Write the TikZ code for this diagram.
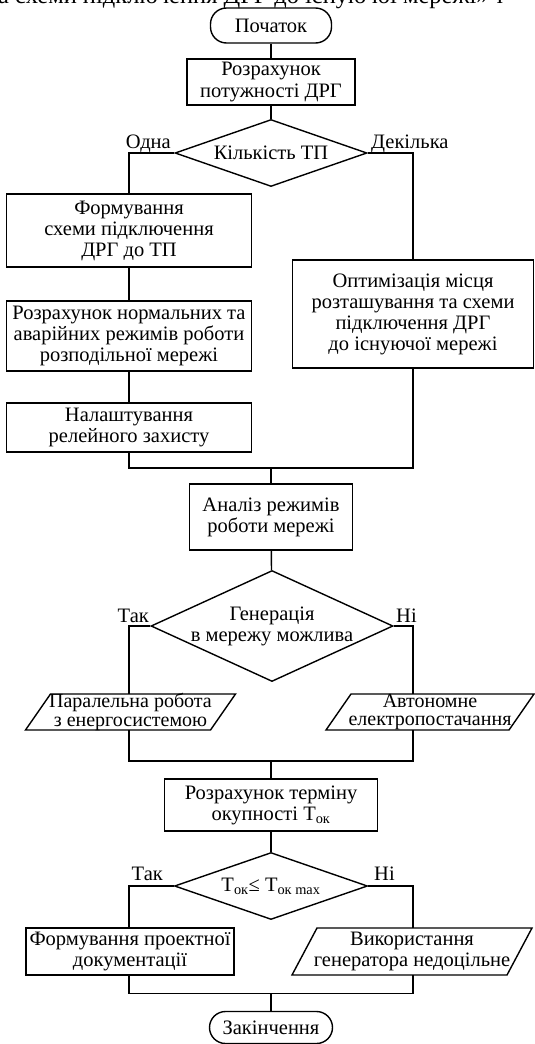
\documentclass[tikz,border=0pt]{standalone}
\usepackage{fontspec}
\setmainfont{Liberation Serif}
\usetikzlibrary{shapes.geometric,calc}
\newcommand{\fsmain}{\fontsize{20.5}{21}\selectfont}
\newcommand{\fsio}{\fontsize{20}{18.5}\selectfont}
\tikzset{
  conn/.style={line width=1.4pt},
  proc/.style={draw, line width=1.4pt, rectangle, align=center, inner sep=0pt, font=\fsmain},
  term/.style={draw, line width=1.4pt, rectangle, rounded corners=16pt, align=center, inner sep=0pt, font=\fsmain},
  dec/.style={draw, line width=1.4pt, diamond, align=center, inner sep=-8pt, font=\fsmain},
  io/.style={rectangle, align=center, inner sep=0pt},
  lbl/.style={inner sep=0pt, font=\fsmain},
}
% #1 name, #2 half width, #3 half height, #4 slant
\newcommand{\iobox}[4]{%
  \draw[line width=1.4pt, line join=miter] ($(#1.center)+(-#2+#4,-#3)$) -- ($(#1.center)+(#2,-#3)$) -- ($(#1.center)+(#2-#4,#3)$) -- ($(#1.center)+(-#2,#3)$) -- cycle;
  \coordinate (#1-top) at ($(#1.center)+(0,-#3)$);
  \coordinate (#1-bot) at ($(#1.center)+(0,#3)$);}
\begin{document}
\begin{tikzpicture}[x=1pt,y=-1pt]
\useasboundingbox (0,0) rectangle (535,1044);
\begin{scope}
\clip (0,0) rectangle (535,1044);
\node[font=\fontsize{24.5}{24.5}\selectfont, anchor=base west, inner sep=0pt] (cap) at (-2,3) {а схеми підключення ДРГ до існуючої мережі» т};
\end{scope}
\coordinate (L) at (129,0);
\coordinate (R) at (413,0);
% nodes
\node[term, minimum width=121pt, minimum height=35pt] (start) at (271,25.5) {Початок};
\node[proc, minimum width=168pt, minimum height=46pt] (calc) at (271,82) {Розрахунок\\потужності ДРГ};
\node[dec, minimum width=192pt, minimum height=67pt, aspect=2.87] (tp) at (271,153) {Кількість ТП};
\node[proc, minimum width=245pt, minimum height=73pt] (form) at (129,230.5) {Формування\\схеми підключення\\ДРГ до ТП};
\node[proc, minimum width=245pt, minimum height=70pt] (norm) at (129,336) {Розрахунок нормальних та\\аварійних режимів роботи\\розподільної мережі};
\node[proc, minimum width=245pt, minimum height=49pt] (relay) at (129,427.5) {Налаштування\\релейного захисту};
\node[proc, minimum width=241pt, minimum height=108pt] (opt) at (413,314) {Оптимізація місця\\розташування та схеми\\підключення ДРГ\\до існуючої мережі};
\coordinate (m1) at (271,468);
\node[proc, minimum width=163pt, minimum height=66pt] (anal) at (271,517) {Аналіз режимів\\роботи мережі};
\node[dec, minimum width=242pt, minimum height=111pt, aspect=2.18] (gen) at (272,626) {Генерація\\в мережу можлива};
\node[io, font=\fsio] (par) at (130.5,712) {Паралельна робота\\з енергосистемою};
\node[io, font=\fsio] (auto) at (430,712) {Автономне\\електропостачання};
\coordinate (m2) at (271,761);
\node[proc, minimum width=213pt, minimum height=52pt] (pay) at (271,805) {Розрахунок терміну\\окупності Т\textsubscript{ок}};
\node[dec, minimum width=193pt, minimum height=67pt, aspect=2.88] (tok) at (271,886) {Т\textsubscript{ок}≤ Т\textsubscript{ок max}};
\node[proc, minimum width=208pt, minimum height=47pt] (doc) at (130,951.5) {Формування проектної\\документації};
\node[io, font=\fsmain] (nouse) at (412,951.5) {Використання\\генератора недоцільне};
\coordinate (m3) at (271,993.5);
\node[term, minimum width=123pt, minimum height=32pt] (end) at (271,1027.5) {Закінчення};
% parallelograms
\iobox{par}{105}{18}{25}
\iobox{auto}{104}{18}{25}
\iobox{nouse}{120}{23.5}{25}
% labels
\node[lbl, anchor=base east] (l1) at (171,148) {Одна};
\node[lbl, anchor=base west] (l2) at (371,148) {Декілька};
\node[lbl, anchor=base east] (l3) at (149,622) {Так};
\node[lbl, anchor=base west] (l4) at (396,622) {Ні};
\node[lbl, anchor=base east] (l5) at (163,880) {Так};
\node[lbl, anchor=base west] (l6) at (374,880) {Ні};
% connectors
\draw[conn] (start) -- (calc);
\draw[conn] (calc) -- (tp);
\draw[conn] (tp.west) -| (form.north);
\draw[conn] (tp.east) -| (opt.north);
\draw[conn] (form) -- (norm);
\draw[conn] (norm) -- (relay);
\draw[conn] (relay.south) |- (m1) -| (opt.south);
\draw[conn] (m1) -- (anal.north);
\draw[conn] (anal) -- (gen);
\draw[conn] (gen.west) -| (par-top -| L);
\draw[conn] (gen.east) -| (auto-top -| R);
\draw[conn] (par-bot -| L) |- (m2) -| (auto-bot -| R);
\draw[conn] (m2) -- (pay.north);
\draw[conn] (pay) -- (tok);
\draw[conn] (tok.west) -| (doc.north -| L);
\draw[conn] (tok.east) -| (nouse-top -| R);
\draw[conn] (doc.south -| L) |- (m3) -| (nouse-bot -| R);
\draw[conn] (m3) -- (end.north);
\end{tikzpicture}
\end{document}
